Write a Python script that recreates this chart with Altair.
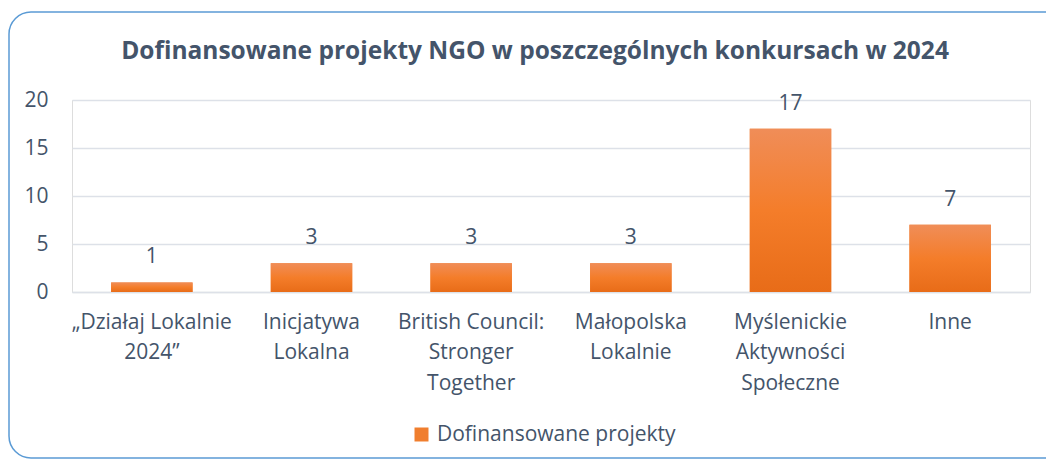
import altair as alt
import pandas as pd

categories = ["„Działaj Lokalnie|2024”", "Inicjatywa|Lokalna", "British Council:|Stronger|Together",
              "Małopolska|Lokalnie", "Myślenickie|Aktywności|Społeczne", "Inne"]
values = [1, 3, 3, 3, 17, 7]
series_name = "Dofinansowane projekty"
title_text = "Dofinansowane projekty NGO w poszczególnych konkursach w 2024"

df = pd.DataFrame({"cat": categories, "val": values, "series": [series_name] * len(values)})

FONT = "Open Sans"
TXT = "#44546A"
FS = 21

x_enc = alt.X("cat:N", sort=categories, title=None,
              scale=alt.Scale(paddingInner=0.49, paddingOuter=0.245),
              axis=alt.Axis(labelExpr="split(datum.label, '|')", labelAngle=0, labelFontSize=FS,
                            labelColor=TXT, labelFont=FONT, labelLineHeight=30.5, labelPadding=19,
                            ticks=False, domain=True, domainColor="#DDE1E8", domainWidth=1.5,
                            labelBaseline="top", labelLimit=0))
y_enc = alt.Y("val:Q", title=None, scale=alt.Scale(domain=[0, 20]),
              axis=alt.Axis(values=[0, 5, 10, 15, 20], labelFontSize=FS, labelColor=TXT, labelFont=FONT,
                            labelPadding=24, ticks=False, domain=False, gridColor="#DDE1E8",
                            gridWidth=1.5))

base = alt.Chart(df)

legend_bar = base.mark_bar().encode(
    x=x_enc, y=y_enc,
    color=alt.Color("series:N", scale=alt.Scale(range=["#F07E2E"]),
                    legend=alt.Legend(title=None, orient="none", legendX=339, legendY=324,
                                      symbolType="square", symbolSize=196, labelFontSize=FS,
                                      labelColor=TXT, labelFont=FONT, symbolStrokeWidth=0,
                                      labelOffset=5, labelLimit=0)))

grad = alt.Gradient(gradient="linear", x1=0, x2=0, y1=0, y2=1,
                    stops=[alt.GradientStop(color="#F08D58", offset=0),
                           alt.GradientStop(color="#F47D2A", offset=0.5),
                           alt.GradientStop(color="#E86C18", offset=1)])
bars = base.mark_bar(color=grad).encode(x=x_enc, y=y_enc)

labels = base.mark_text(fontSize=FS, color=TXT, font=FONT, baseline="middle", dy=-25).encode(
    x=x_enc, y=y_enc, text="val:Q")

one = alt.Chart(pd.DataFrame({"t": [title_text]}))
border = one.mark_rect(
    cornerRadius=22, fill="transparent", stroke="#5B9BD5", strokeWidth=1.5, clip=False
).encode(x=alt.value(-63), x2=alt.value(995), y=alt.value(-88), y2=alt.value(358))

title = one.mark_text(fontSize=24.5, font=FONT, fontWeight="bold", color=TXT, baseline="middle",
                      align="center").encode(x=alt.value(463), y=alt.value(-48), text="t:N")

chart = alt.layer(border, title, legend_bar, bars, labels).properties(
    width=958, height=192,
    autosize=alt.AutoSizeParams(type="none"),
    padding={"left": 64, "right": 16, "top": 92, "bottom": 168},
).configure_view(stroke=None).configure(background="white")

chart.save("out.html", embed_options={"renderer": "svg", "actions": False})
